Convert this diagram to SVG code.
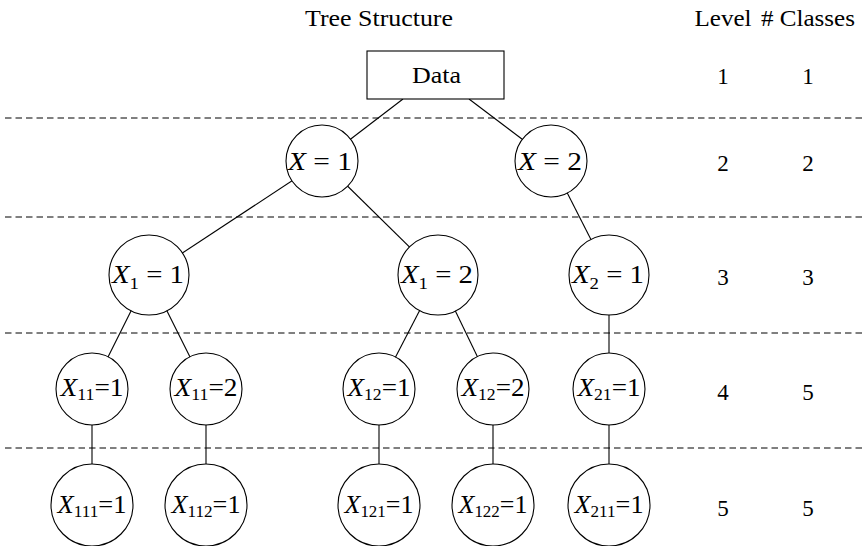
<svg xmlns="http://www.w3.org/2000/svg" width="863" height="546" viewBox="0 0 863 546">
<style>
.n{fill:#fff;stroke:#000;stroke-width:1.1}
.e{stroke:#000;stroke-width:1.1;fill:none}
.d{stroke:#000;stroke-width:1;stroke-dasharray:6.5 4;fill:none}
.t{font-family:"Liberation Serif",serif;font-size:23px;fill:#000;text-anchor:middle}
.m{font-family:"Liberation Serif",serif;font-size:26px;fill:#000;text-anchor:middle}
.i{font-style:italic}
.s{font-size:17px}
</style>
<rect width="863" height="546" fill="#fff"/>
<g id="header">
<text class="t" x="379" y="26" textLength="148" lengthAdjust="spacingAndGlyphs">Tree Structure</text>
<text class="t" x="723" y="26" textLength="57" lengthAdjust="spacingAndGlyphs">Level</text>
<text class="t" x="808" y="26" textLength="94" lengthAdjust="spacingAndGlyphs"># Classes</text>
</g>
<g id="separators">
<line class="d" x1="5" y1="118" x2="862" y2="118"/>
<line class="d" x1="5" y1="217" x2="862" y2="217"/>
<line class="d" x1="5" y1="333" x2="862" y2="333"/>
<line class="d" x1="5" y1="448" x2="862" y2="448"/>
</g>
<g id="connectors">
<line class="e" x1="403" y1="99" x2="322" y2="161"/>
<line class="e" x1="469" y1="99" x2="551" y2="161"/>
<line class="e" x1="322" y1="161" x2="149" y2="275"/>
<line class="e" x1="322" y1="161" x2="438" y2="275"/>
<line class="e" x1="551" y1="161" x2="609" y2="275"/>
<line class="e" x1="149" y1="275" x2="92" y2="389"/>
<line class="e" x1="149" y1="275" x2="206" y2="389"/>
<line class="e" x1="438" y1="275" x2="379" y2="389"/>
<line class="e" x1="438" y1="275" x2="493" y2="389"/>
<line class="e" x1="609" y1="275" x2="609" y2="389"/>
<line class="e" x1="92" y1="389" x2="92" y2="505"/>
<line class="e" x1="206" y1="389" x2="206" y2="505"/>
<line class="e" x1="379" y1="389" x2="379" y2="505"/>
<line class="e" x1="493" y1="389" x2="493" y2="505"/>
<line class="e" x1="609" y1="389" x2="609" y2="505"/>
</g>
<g id="data">
<rect class="n" x="367" y="51" width="137" height="48"/>
<text class="t" x="436.5" y="83" textLength="49" lengthAdjust="spacingAndGlyphs">Data</text>
</g>
<g id="x1">
<circle class="n" cx="322" cy="161" r="36"/>
<text class="m" x="320" y="170" textLength="64" lengthAdjust="spacingAndGlyphs"><tspan class="i">X</tspan> = 1</text>
</g>
<g id="x2">
<circle class="n" cx="551" cy="161" r="36"/>
<text class="m" x="550" y="170" textLength="64" lengthAdjust="spacingAndGlyphs"><tspan class="i">X</tspan> = 2</text>
</g>
<g id="x1_1">
<circle class="n" cx="149" cy="275" r="40"/>
<text class="m" x="148" y="283" textLength="72" lengthAdjust="spacingAndGlyphs"><tspan class="i">X</tspan><tspan class="s" dy="6">1</tspan><tspan dy="-6"> = 1</tspan></text>
</g>
<g id="x1_2">
<circle class="n" cx="438" cy="275" r="40"/>
<text class="m" x="437" y="283" textLength="72" lengthAdjust="spacingAndGlyphs"><tspan class="i">X</tspan><tspan class="s" dy="6">1</tspan><tspan dy="-6"> = 2</tspan></text>
</g>
<g id="x2_1">
<circle class="n" cx="609" cy="275" r="40"/>
<text class="m" x="608" y="283" textLength="72" lengthAdjust="spacingAndGlyphs"><tspan class="i">X</tspan><tspan class="s" dy="6">2</tspan><tspan dy="-6"> = 1</tspan></text>
</g>
<g id="x11_1">
<circle class="n" cx="92" cy="389" r="36"/>
<text class="m" x="92" y="396" textLength="63" lengthAdjust="spacingAndGlyphs"><tspan class="i">X</tspan><tspan class="s" dy="4">11</tspan><tspan dy="-4">=1</tspan></text>
</g>
<g id="x11_2">
<circle class="n" cx="206" cy="389" r="36"/>
<text class="m" x="206" y="396" textLength="63" lengthAdjust="spacingAndGlyphs"><tspan class="i">X</tspan><tspan class="s" dy="4">11</tspan><tspan dy="-4">=2</tspan></text>
</g>
<g id="x12_1">
<circle class="n" cx="379" cy="389" r="36"/>
<text class="m" x="379" y="396" textLength="63" lengthAdjust="spacingAndGlyphs"><tspan class="i">X</tspan><tspan class="s" dy="4">12</tspan><tspan dy="-4">=1</tspan></text>
</g>
<g id="x12_2">
<circle class="n" cx="493" cy="389" r="36"/>
<text class="m" x="493" y="396" textLength="63" lengthAdjust="spacingAndGlyphs"><tspan class="i">X</tspan><tspan class="s" dy="4">12</tspan><tspan dy="-4">=2</tspan></text>
</g>
<g id="x21_1">
<circle class="n" cx="609" cy="389" r="36"/>
<text class="m" x="609" y="396" textLength="63" lengthAdjust="spacingAndGlyphs"><tspan class="i">X</tspan><tspan class="s" dy="4">21</tspan><tspan dy="-4">=1</tspan></text>
</g>
<g id="x111_1">
<circle class="n" cx="92" cy="505" r="41"/>
<text class="m" x="92" y="513" textLength="69" lengthAdjust="spacingAndGlyphs"><tspan class="i">X</tspan><tspan class="s" dy="4">111</tspan><tspan dy="-4">=1</tspan></text>
</g>
<g id="x112_1">
<circle class="n" cx="206" cy="505" r="41"/>
<text class="m" x="206" y="513" textLength="69" lengthAdjust="spacingAndGlyphs"><tspan class="i">X</tspan><tspan class="s" dy="4">112</tspan><tspan dy="-4">=1</tspan></text>
</g>
<g id="x121_1">
<circle class="n" cx="379" cy="505" r="41"/>
<text class="m" x="379" y="513" textLength="69" lengthAdjust="spacingAndGlyphs"><tspan class="i">X</tspan><tspan class="s" dy="4">121</tspan><tspan dy="-4">=1</tspan></text>
</g>
<g id="x122_1">
<circle class="n" cx="493" cy="505" r="41"/>
<text class="m" x="493" y="513" textLength="69" lengthAdjust="spacingAndGlyphs"><tspan class="i">X</tspan><tspan class="s" dy="4">122</tspan><tspan dy="-4">=1</tspan></text>
</g>
<g id="x211_1">
<circle class="n" cx="609" cy="505" r="41"/>
<text class="m" x="609" y="513" textLength="69" lengthAdjust="spacingAndGlyphs"><tspan class="i">X</tspan><tspan class="s" dy="4">211</tspan><tspan dy="-4">=1</tspan></text>
</g>
<g id="levels">
<text class="t" x="723" y="84">1</text><text class="t" x="808" y="84">1</text>
<text class="t" x="723" y="171">2</text><text class="t" x="808" y="171">2</text>
<text class="t" x="723" y="285">3</text><text class="t" x="808" y="285">3</text>
<text class="t" x="723" y="400">4</text><text class="t" x="808" y="400">5</text>
<text class="t" x="723" y="516">5</text><text class="t" x="808" y="516">5</text>
</g>
</svg>
